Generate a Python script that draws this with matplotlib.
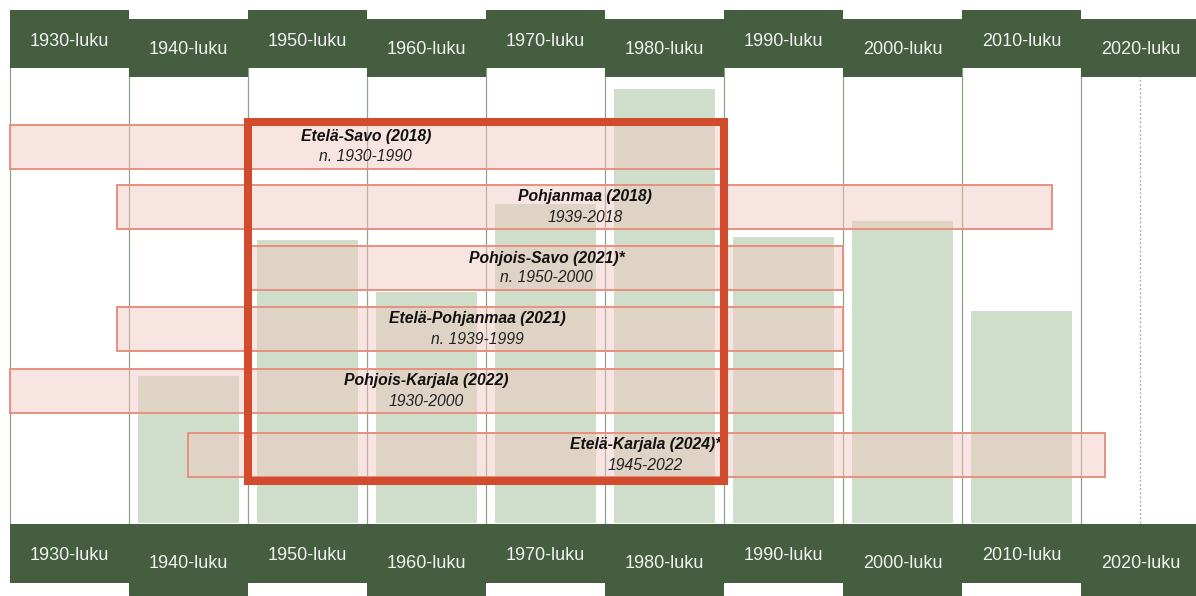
import matplotlib.pyplot as plt
from matplotlib.patches import Rectangle

# decades shown as columns
decades = [1930, 1940, 1950, 1960, 1970, 1980, 1990, 2000, 2010, 2020]
decade_labels = [f"{d}-luku" for d in decades]
# green bar heights per decade (arbitrary units)
bar_values = [0, 147, 283, 231, 319, 434, 286, 302, 212, 0]

# regional studies: name, period text, drawn span
study_titles = ["Etelä-Savo (2018)", "Pohjanmaa (2018)", "Pohjois-Savo (2021)*",
                "Etelä-Pohjanmaa (2021)", "Pohjois-Karjala (2022)", "Etelä-Karjala (2024)*"]
study_periods = ["n. 1930-1990", "1939-2018", "n. 1950-2000",
                 "n. 1939-1999", "1930-2000", "1945-2022"]
study_start = [1930, 1939, 1950, 1939, 1930, 1945]
study_end = [1990, 2017.6, 2000, 2000, 2000, 2022]
label_year = [1959.9, 1978.3, 1975.1, 1969.3, 1965.0, 1983.4]

highlight = (1950, 1990)

HEADER = "#445e3f"
BAR = "#cfdecb"
GRID = "#8fa38b"
PINK = "#f1c6bf"
PINK_EDGE = "#e8907f"
RED = "#d14b2d"

plt.rcParams['font.family'] = ['Liberation Sans', 'DejaVu Sans']

fig = plt.figure(figsize=(11.96, 5.96), dpi=100)
ax = fig.add_axes([0, 0, 1, 1])
ax.set_xlim(1929.16, 1929.16 + 1196 / 11.9)
ax.set_ylim(-73, 523)
ax.axis('off')

# column separators
for d in decades:
    ax.plot([d, d], [0, 460], color=GRID, lw=0.9, zorder=0)
ax.plot([2025, 2025], [0, 450], color="#b0b0b0", lw=1, ls=(0, (1.5, 1.5)), zorder=0)

# green bars
ax.bar([d + 5 for d in decades], bar_values, width=8.5, color=BAR, zorder=1)

# header boxes (top and bottom), alternating offsets
for i, (d, lab) in enumerate(zip(decades, decade_labels)):
    odd = i % 2 == 1
    if odd:
        ax.bar(d, 58, width=10, bottom=446, align='edge', color=HEADER, zorder=3)
        ax.bar(d, 72, width=10, bottom=-73, align='edge', color=HEADER, zorder=3)
        ty, by = 473, -40
    else:
        ax.bar(d, 58, width=10, bottom=455, align='edge', color=HEADER, zorder=3)
        ax.bar(d, 59, width=10, bottom=-60, align='edge', color=HEADER, zorder=3)
        ty, by = 482, -32
    ax.text(d + 5, ty, lab, color="#f2f2f2", fontsize=13, ha='center', va='center', zorder=4)
    ax.text(d + 5, by, lab, color="#f2f2f2", fontsize=13, ha='center', va='center', zorder=4)

# study lanes
lane_y = [376.5, 316, 255, 194, 132, 68]
for y, t, p, s, e, lx in zip(lane_y, study_titles, study_periods, study_start, study_end, label_year):
    ax.barh(y, e - s, left=s, height=44, color=PINK, alpha=0.45, zorder=2)
    ax.barh(y, e - s, left=s, height=44, fill=False, edgecolor=PINK_EDGE, lw=1.4, zorder=2)
    ax.text(lx, y + 10, t, fontsize=11.3, fontweight='bold', fontstyle='italic',
            ha='center', va='center', color="#111111", zorder=5)
    ax.text(lx, y - 10, p, fontsize=11.3, fontstyle='italic',
            ha='center', va='center', color="#222222", zorder=5)

# highlight frame
ax.add_patch(Rectangle((highlight[0], 42), highlight[1] - highlight[0], 359.5,
                       fill=False, edgecolor=RED, lw=5.8, zorder=6))

fig.savefig("out.png", dpi=100)
